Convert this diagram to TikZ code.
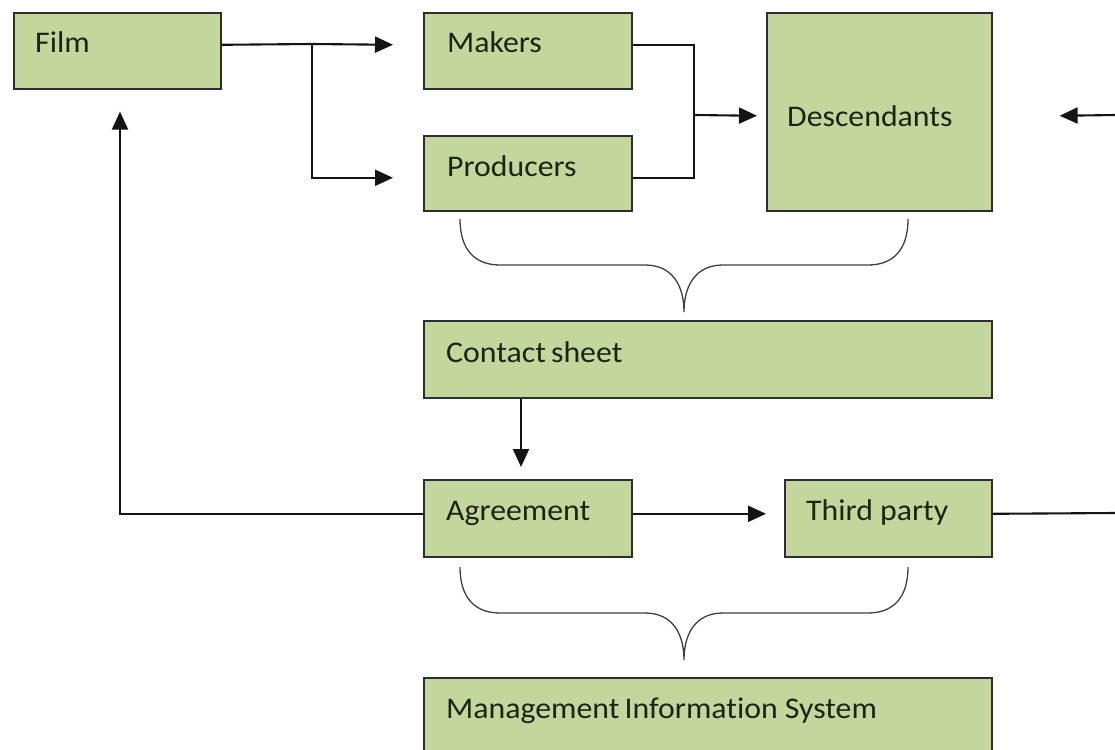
\documentclass[tikz,border=0pt]{standalone}
\usepackage{fontspec}
\setmainfont{Carlito}[FakeStretch=1.06, Ligatures=NoCommon]
\usetikzlibrary{arrows.meta,calc}
\definecolor{boxgreen}{HTML}{C3D69B}
\definecolor{edgecol}{HTML}{2E2E2E}
\definecolor{txtcol}{HTML}{1E2414}
\begin{document}
\begin{tikzpicture}[x=1pt,y=-1pt,
  box/.style={draw=edgecol, line width=1.6pt, fill=boxgreen, anchor=north west, inner sep=0pt},
  lbl/.style={anchor=base west, inner sep=0pt, text=txtcol, font=\fontsize{30}{36}\selectfont},
  conn/.style={line width=2.1pt, draw=black!92},
  arr/.style={conn, -{Triangle[length=18pt,width=16pt]}},
  brace/.style={line width=1.3pt, draw=black!75}]
\clip (0,0) rectangle (1115,749);
\fill[white] (0,0) rectangle (1115,749);

% boxes
\node[box, minimum width=207pt, minimum height=76pt] (film) at (13,12) {};
\node[box, minimum width=208pt, minimum height=76pt] (makers) at (423,12) {};
\node[box, minimum width=208pt, minimum height=75pt] (producers) at (423,135) {};
\node[box, minimum width=225pt, minimum height=198pt] (desc) at (766,12) {};
\node[box, minimum width=568pt, minimum height=77pt] (contact) at (423,320) {};
\node[box, minimum width=208pt, minimum height=77pt] (agree) at (423,479) {};
\node[box, minimum width=207pt, minimum height=77pt] (third) at (784,479) {};
\node[box, minimum width=568pt, minimum height=100pt] (mis) at (423,677) {};

% labels
\node[lbl] (filmt) at ($(film.north west)+(22,41)$) {Film};
\node[lbl] (makerst) at ($(makers.north west)+(24,41)$) {Makers};
\node[lbl] (producerst) at ($(producers.north west)+(24,41)$) {Producers};
\node[lbl] (desct) at ($(desc.north west)+(21,114)$) {Descendants};
\node[lbl] (contactt) at ($(contact.north west)+(23,42)$) {Contact\hspace{-2pt} sheet};
\node[lbl] (agreet) at ($(agree.north west)+(23,41)$) {Agreement};
\node[lbl] (thirdt) at ($(third.north west)+(22,41)$) {Third party};
\node[lbl] (mist) at ($(mis.north west)+(23,41)$) {Management\hspace{-2pt} Information System};

% connectors
\coordinate (j1) at (312,44);
\draw[conn] ($(film.east)+(0,-6)$) -- (j1);
\draw[arr] (j1) -- ($(makers.west)+(-30,-6)$);
\draw[arr] (j1) |- ($(producers.west)+(-30,4.5)$);

\coordinate (j2) at (694,115);
\draw[conn] ($(makers.east)+(0,-6)$) -| (j2) |- ($(producers.east)+(0,4.5)$);
\draw[arr] (j2) -- ($(desc.west)+(-9,4)$);

\coordinate (rin) at (1116,115);
\draw[arr] (rin) -- ($(desc.east)+(67,4)$);

\draw[arr] ($(contact.south west)+(98,0)$) -- ($(agree.north west)+(98,-12)$);
\draw[arr] ($(agree.east)+(0,-4.5)$) -- ($(third.west)+(-18,-4.5)$);
\draw[arr] ($(agree.west)+(0,-4.5)$) -| ($(film.south west)+(107,22)$);

\coordinate (rout) at (1116,513);
\draw[conn] ($(third.east)+(0,-4.5)$) -- (rout);

% braces
\draw[brace] (460,219) .. controls (460,250) and (475,265) .. (500,265) -- (645,265)
  .. controls (672,265) and (684,285) .. (684,312)
  .. controls (684,285) and (696,265) .. (723,265) -- (868,265)
  .. controls (893,265) and (908,250) .. (908,219);
\begin{scope}[shift={(0,348)}]
\draw[brace] (460,219) .. controls (460,250) and (475,265) .. (500,265) -- (645,265)
  .. controls (672,265) and (684,285) .. (684,312)
  .. controls (684,285) and (696,265) .. (723,265) -- (868,265)
  .. controls (893,265) and (908,250) .. (908,219);
\end{scope}
\end{tikzpicture}
\end{document}
